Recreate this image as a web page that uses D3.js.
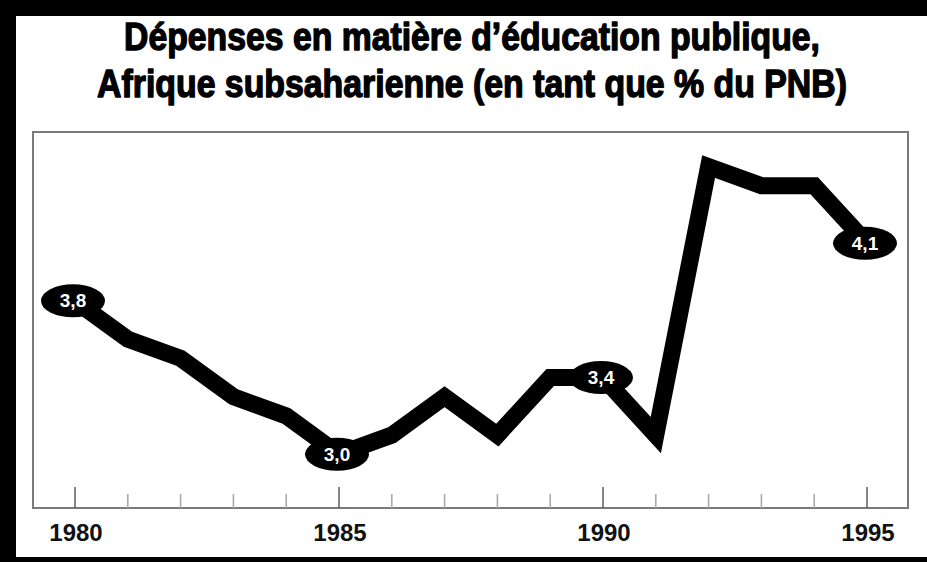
<!DOCTYPE html>
<html>
<head>
<meta charset="utf-8">
<script src="https://cdn.jsdelivr.net/npm/d3@7"></script>
<style>
  body { margin: 0; background: #fff; }
  svg { display: block; }
  .title { font-family: "Liberation Sans Narrow", "Arial Narrow", "Liberation Sans", Arial, sans-serif; font-weight: bold; font-size: 39px; fill: #000; stroke: #000; stroke-width: 1.4px; stroke-linejoin: round; }
  .yearLabel { font-family: "Liberation Sans", Arial, sans-serif; font-weight: bold; font-size: 24px; fill: #111; }
  .valueLabel { font-family: "Liberation Sans", Arial, sans-serif; font-weight: bold; font-size: 19px; fill: #fff; }
</style>
</head>
<body>
<div id="chart"></div>
<script>
//Data
var years = d3.range(1980, 1996);
var spending = [3.8, 3.6, 3.5, 3.3, 3.2, 3.0, 3.1, 3.3, 3.1, 3.4, 3.4, 3.1, 4.5, 4.4, 4.4, 4.1];
var labelYears = [1980, 1985, 1990, 1995];
var labelTexts = ["3,8", "3,0", "3,4", "4,1"];
var titleLines = ["Dépenses en matière d’éducation publique,", "Afrique subsaharienne (en tant que % du PNB)"];

var w = 927, h = 562;

//Plot box
var box = {left: 33, right: 908, top: 132, bottom: 508};

var svg = d3.select("#chart").append("svg")
	.attr("width", w)
	.attr("height", h);

//Thick black frame
svg.append("rect").attr("width", w).attr("height", h).style("fill", "#000");
svg.append("rect")
	.attr("x", 16).attr("y", 16)
	.attr("width", w - 16 + 20).attr("height", 557 - 16)
	.style("fill", "#fff");

//Title - squeezed horizontally to look condensed
var titleWidths = [696, 750];
svg.selectAll(".title")
	.data(titleLines)
	.enter().append("text")
	.attr("class", "title")
	.attr("text-anchor", "middle")
	.text(function(d) { return d; })
	.attr("transform", function(d, i) {
		var natural = this.getComputedTextLength();
		return "translate(472," + (50 + i * 47) + ") scale(" + (titleWidths[i] / natural) + ",1)";
	});

//Scales
var x = d3.scaleLinear()
	.domain([1980, 1995])
	.range([75, 867]);

var y = d3.scaleLinear()
	.domain([2.72, 4.68])
	.range([box.bottom, box.top]);

//Box
svg.append("rect")
	.attr("x", box.left).attr("y", box.top)
	.attr("width", box.right - box.left).attr("height", box.bottom - box.top)
	.style("fill", "none")
	.style("stroke", "#7a7a7a")
	.style("stroke-width", 2);

//Ticks
svg.selectAll(".tick")
	.data(years)
	.enter().append("line")
	.attr("class", "tick")
	.attr("x1", function(d) { return x(d); })
	.attr("x2", function(d) { return x(d); })
	.attr("y1", box.bottom)
	.attr("y2", function(d) { return labelYears.indexOf(d) >= 0 ? box.bottom - 21 : box.bottom - 14; })
	.style("stroke", function(d) { return labelYears.indexOf(d) >= 0 ? "#666" : "#aaa"; })
	.style("stroke-width", 1.6);

//Year labels
svg.selectAll(".yearLabel")
	.data(labelYears)
	.enter().append("text")
	.attr("class", "yearLabel")
	.attr("x", function(d) { return x(d) + 1; })
	.attr("y", 541)
	.attr("text-anchor", "middle")
	.text(function(d) { return d; });

//Line
var data = years.map(function(d, i) { return {year: d, value: spending[i]}; });

var line = d3.line()
	.x(function(d) { return x(d.year); })
	.y(function(d) { return y(d.value); });

svg.append("path")
	.datum(data)
	.attr("d", line)
	.style("fill", "none")
	.style("stroke", "#000")
	.style("stroke-width", 17)
	.style("stroke-linejoin", "miter")
	.style("stroke-miterlimit", 6);

//Value bubbles
var labelData = labelYears.map(function(d, i) {
	return {year: d, value: spending[years.indexOf(d)], text: labelTexts[i]};
});

var bubbles = svg.selectAll(".bubble")
	.data(labelData)
	.enter().append("g")
	.attr("class", "bubble")
	.attr("transform", function(d) { return "translate(" + (x(d.year) - 2) + "," + y(d.value) + ")"; });

bubbles.append("ellipse")
	.attr("rx", 32)
	.attr("ry", 16.5)
	.style("fill", "#000");

bubbles.append("text")
	.attr("class", "valueLabel")
	.attr("text-anchor", "middle")
	.attr("dy", "0.35em")
	.text(function(d) { return d.text; });
</script>
</body>
</html>
